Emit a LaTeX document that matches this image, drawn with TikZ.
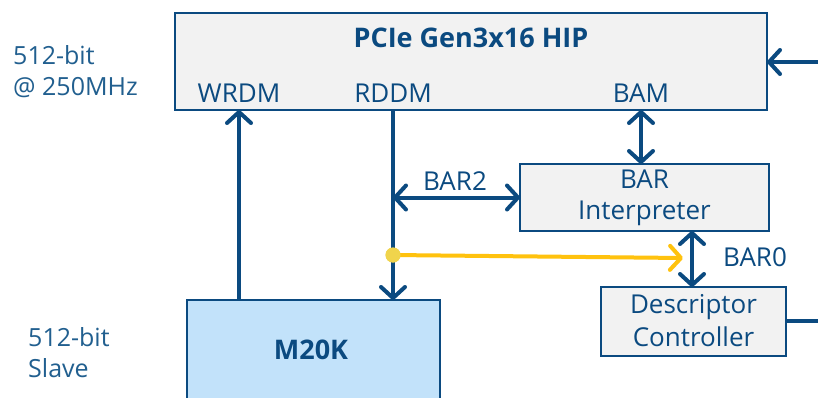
\documentclass[tikz,border=0pt]{standalone}
\usepackage{fontspec}
\setmainfont{Open Sans}
\usetikzlibrary{arrows.meta}
\definecolor{navy}{HTML}{0B4A80}
\definecolor{boxgray}{HTML}{F2F2F2}
\definecolor{memblue}{HTML}{C2E2FA}
\definecolor{gold}{HTML}{FFC20E}
\definecolor{dotyellow}{HTML}{F0D44C}
\definecolor{sidetext}{HTML}{215F8F}
\tikzset{
  block/.style={draw=navy, line width=2pt, fill=boxgray, inner sep=0pt, outer sep=0pt},
  lbl/.style={text=navy, font=\fontsize{26}{30}\selectfont, inner sep=0pt},
  side/.style={text=sidetext, font=\fontsize{25}{31}\selectfont, align=left, inner sep=0pt, anchor=west},
  arr/.style={navy, line width=4pt, -{Straight Barb[length=11pt, width=24pt, line cap=round, line join=round]}},
  darr/.style={navy, line width=4pt, {Straight Barb[length=11pt, width=24pt, line cap=round, line join=round]}-{Straight Barb[length=11pt, width=24pt, line cap=round, line join=round]}},
  yarr/.style={gold, line width=4pt, -{Straight Barb[length=11pt, width=24pt, line cap=round, line join=round]}},
}
\begin{document}
\begin{tikzpicture}[x=1pt, y=-1pt]
\clip (0,0) rectangle (818,397);
\fill[white] (0,0) rectangle (818,397);

% blocks
\node[block, minimum width=592pt, minimum height=97pt] (hip) at (471,61.5) {};
\node[block, minimum width=249pt, minimum height=67pt] (bari) at (644.5,197.5) {};
\node[block, minimum width=185pt, minimum height=69pt] (desc) at (693.5,321.5) {};
\node[block, fill=memblue, minimum width=253pt, minimum height=120pt] (m20k) at (313.5,360) {};

% block texts
\node[lbl, font=\fontsize{27}{30}\bfseries\selectfont] (hiptitle) at (471,38) {PCIe Gen3x16 HIP};
\node[lbl] (wrdm) at (239,93) {WRDM};
\node[lbl] (rddm) at (393,93) {RDDM};
\node[lbl] (bam) at (641,93) {BAM};
\node[lbl, align=center, font=\fontsize{26}{31}\selectfont] (baritext) at (644.5,198) {BAR\\Interpreter};
\node[lbl, align=center, font=\fontsize{26}{33}\selectfont] (desctext) at (693.5,321) {Descriptor\\Controller};
\node[lbl, font=\fontsize{27}{30}\bfseries\selectfont] (memtext) at (311,350) {M20K};

% side notes
\node[side] (bus) at (13,72) {512-bit\\@ 250MHz};
\node[side] (slave) at (28,353) {512-bit\\Slave};

% connectors
\coordinate (hipin) at (818,62);
\coordinate (descout) at (818,321);
\draw[arr] (hipin) -- (hipin -| hip.east);
\draw[navy, line width=4pt] (desc.east |- descout) -- (descout);

\draw[arr] (m20k.north -| wrdm) -- (hip.south -| wrdm);
\draw[arr] (hip.south -| rddm) -- (m20k.north -| rddm);

\coordinate (bar2j) at (rddm |- bari.west);
\draw[darr] (bar2j) -- (bari.west);
\node[lbl] (bar2) at (455,181) {BAR2};

\draw[darr] (hip.south -| bam) -- (bari.north -| bam);

\coordinate (bar0x) at (692,0);
\draw[darr] (bari.south -| bar0x) -- (desc.north -| bar0x);
\node[lbl, anchor=west] (bar0) at (723,257) {BAR0};

\node[circle, fill=dotyellow, minimum size=15pt, inner sep=0pt] (tap) at (393,255) {};
\coordinate (yend) at (683,258);
\draw[yarr] (tap.center) -- (yend);
\node[circle, fill=dotyellow, minimum size=15pt, inner sep=0pt] at (tap) {};
\end{tikzpicture}
\end{document}
